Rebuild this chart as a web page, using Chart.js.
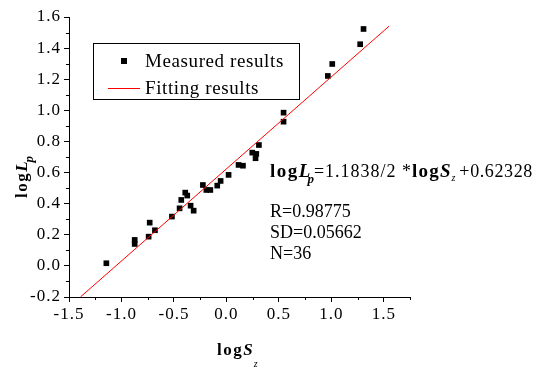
<!DOCTYPE html>
<html>
<head>
<meta charset="utf-8">
<script src="https://cdn.jsdelivr.net/npm/chart.js@4"></script>
<style>
body{margin:0;background:#fff}
canvas{display:block}
</style>
</head>
<body>
<canvas id="chart" width="534" height="369"></canvas>
<script>

/* DATA */

const logS = [-1.144,-0.874,-0.874,-0.741,-0.731,-0.681,-0.519,-0.446,-0.430,-0.392,-0.373,-0.341,-0.312,-0.224,-0.191,-0.153,-0.087,-0.055,0.021,0.116,0.158,0.247,0.285,0.278,0.310,0.545,0.545,0.967,1.009,1.275,1.307]

const logLp = [0.017,0.167,0.141,0.188,0.278,0.229,0.317,0.370,0.424,0.471,0.452,0.387,0.355,0.520,0.488,0.488,0.516,0.546,0.585,0.649,0.644,0.728,0.720,0.692,0.777,0.985,0.927,1.221,1.298,1.425,1.523]

const fitSlope = 1.1838/2
const fitIntercept = 0.62328
const fitRange = [-1.39,1.55]

const xTickValues = [-1.5,-1.0,-0.5,0.0,0.5,1.0,1.5]
const yTickValues = [-0.2,0.0,0.2,0.4,0.6,0.8,1.0,1.2,1.4,1.6]
const xMinorTicks = [-1.25,-0.75,-0.25,0.25,0.75,1.25,1.75]
const yMinorTicks = [-0.1,0.1,0.3,0.5,0.7,0.9,1.1,1.3,1.5]

const legendLabels = ["Measured results","Fitting results"]
const statLines = ["R=0.98775","SD=0.05662","N=36"]

const serif = "'Liberation Serif','Times New Roman',serif"



/* TEXT HELPER */

function drawRich(ctx,x,y,parts){

let cx = x

parts.forEach(p=>{

ctx.font = p.font+" "+serif
ctx.letterSpacing = (p.sp||0)+"px"
ctx.fillText(p.t,cx,y+(p.dy||0))
cx += ctx.measureText(p.t).width+(p.gap||0)

})

}



/* EXTRA DRAWING: minor ticks, legend box, labels */

const decor = {

id:"decor",

beforeDraw(chart){

chart.ctx.letterSpacing = "1px"

},

afterDraw(chart){

const ctx = chart.ctx
const xs = chart.scales.x
const ys = chart.scales.y
const area = chart.chartArea

ctx.save()

// minor ticks
ctx.strokeStyle = "#000"
ctx.lineWidth = 1
ctx.beginPath()
xMinorTicks.forEach(v=>{
const px = Math.round(xs.getPixelForValue(v))+0.5
ctx.moveTo(px,area.bottom)
ctx.lineTo(px,area.bottom+3)
})
yMinorTicks.forEach(v=>{
const py = Math.round(ys.getPixelForValue(v))+0.5
ctx.moveTo(area.left-3,py)
ctx.lineTo(area.left,py)
})
ctx.stroke()

// legend
ctx.strokeRect(93.5,43.5,206,56)
ctx.fillStyle = "#000"
ctx.fillRect(121,58,6,6)
ctx.strokeStyle = "#ff0000"
ctx.beginPath()
ctx.moveTo(108,88.5)
ctx.lineTo(140,88.5)
ctx.stroke()

ctx.fillStyle = "#000"
ctx.textBaseline = "middle"
ctx.font = "19px "+serif
ctx.letterSpacing = "0.6px"
ctx.fillText(legendLabels[0],145,62)
ctx.fillText(legendLabels[1],145,89)

// fit equation and stats
ctx.textBaseline = "alphabetic"
drawRich(ctx,270,177,[
{t:"log",font:"bold 19px",sp:1.5},
{t:"L",font:"italic bold 19px",gap:-3},
{t:"p",font:"italic bold 13px",dy:6},
{t:"=1.1838/2 *",font:"18px",sp:1},
{t:"log",font:"bold 19px",sp:1.2},
{t:"S",font:"italic bold 19px",gap:1},
{t:"z",font:"italic 10px",dy:4,gap:4},
{t:"+0.62328",font:"18px",sp:0.6}
])

ctx.font = "18px "+serif
ctx.letterSpacing = "0px"
statLines.forEach((s,i)=>{
ctx.fillText(s,270,217+i*21)
})

// x title
drawRich(ctx,217,355,[
{t:"log",font:"bold 17px",sp:1.5},
{t:"S",font:"italic bold 17px",gap:1},
{t:"z",font:"italic 10px",dy:12}
])

// y title
ctx.save()
ctx.translate(27,198)
ctx.rotate(-Math.PI/2)
drawRich(ctx,0,0,[
{t:"log",font:"bold 17px",sp:1.5},
{t:"L",font:"italic bold 17px",gap:-1},
{t:"p",font:"italic bold 13px",dy:6}
])
ctx.restore()

ctx.restore()

}

}



/* CHART */

const chart = new Chart(

document.getElementById("chart"),

{

type:"scatter",

data:{

datasets:[

{
label:legendLabels[1],
data:fitRange.map(x=>({x:x,y:fitSlope*x+fitIntercept})),
showLine:true,
borderColor:"#ff0000",
borderWidth:1,
pointRadius:0,
order:0
},

{
label:legendLabels[0],
data:logS.map((x,i)=>({x:x,y:logLp[i]})),
pointStyle:"rect",
pointRadius:4,
pointBackgroundColor:"#000",
pointBorderWidth:0,
showLine:false,
order:1
}

]

},

options:{

responsive:false,
animation:false,

layout:{padding:{top:17,right:124,left:0,bottom:0}},

plugins:{legend:{display:false},tooltip:{enabled:false}},

scales:{

x:{
type:"linear",
min:-1.5,
max:1.75,
afterBuildTicks:s=>{s.ticks = xTickValues.map(v=>({value:v}))},
afterFit:s=>{s.height = 72},
ticks:{autoSkip:false,maxRotation:0,padding:2,color:"#000",font:{family:serif,size:17},callback:v=>v.toFixed(1)},
grid:{drawOnChartArea:false,tickLength:5,color:"#000"},
border:{color:"#000",width:1}
},

y:{
type:"linear",
min:-0.2,
max:1.6,
afterBuildTicks:s=>{s.ticks = yTickValues.map(v=>({value:v}))},
afterFit:s=>{s.width = 69},
ticks:{autoSkip:false,padding:3,color:"#000",font:{family:serif,size:17},callback:v=>v.toFixed(1)},
grid:{drawOnChartArea:false,tickLength:5,color:"#000"},
border:{color:"#000",width:1}
}

}

},

plugins:[decor]

}

)

</script>
</body>
</html>
